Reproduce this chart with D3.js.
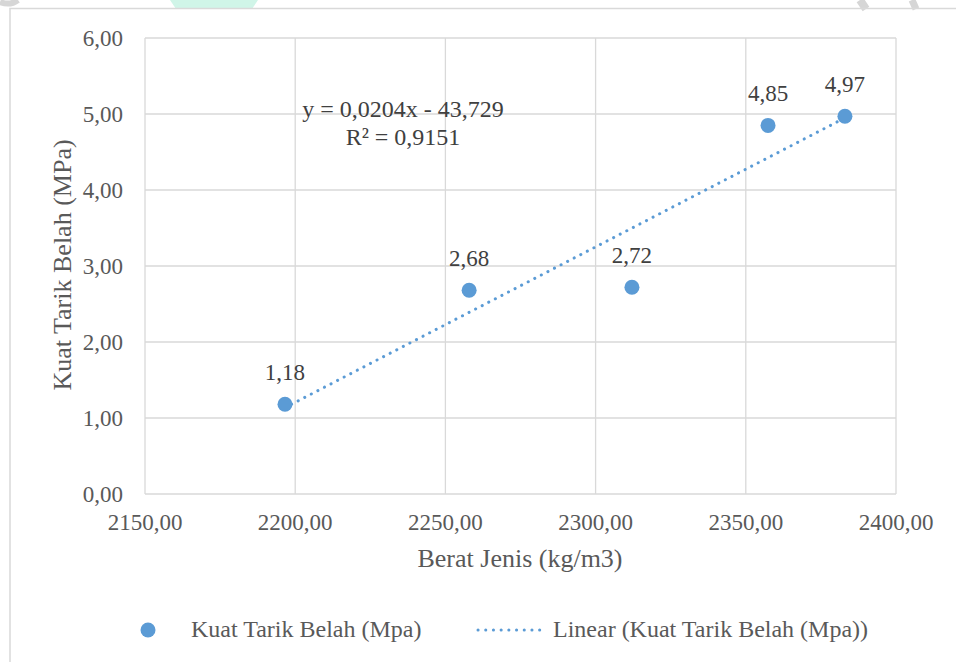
<!DOCTYPE html>
<html lang="en">
<head>
  <meta charset="UTF-8">
  <title>Kuat Tarik Belah vs Berat Jenis</title>
  <script src="https://d3js.org/d3.v7.min.js"></script>
  <style>
    body { margin: 0; background: #fff; }
    text { font-family: "Liberation Serif", "Times New Roman", serif; fill: #595959; }
    .tick-label { font-size: 23px; }
    .axis-title { font-size: 26px; }
    .data-label { font-size: 23px; fill: #404040; }
    .eq-label { font-size: 24px; fill: #404040; }
    .legend-text { font-size: 24px; }
  </style>
</head>
<body>
  <script>
    // data
    const beratJenis = [2196.6, 2257.9, 2312.1, 2357.4, 2383.0];
    const kuatTarik = [1.18, 2.68, 2.72, 4.85, 4.97];
    const labels = ["1,18", "2,68", "2,72", "4,85", "4,97"];
    const xTicks = [2150, 2200, 2250, 2300, 2350, 2400];
    const yTicks = [0, 1, 2, 3, 4, 5, 6];
    const equation = ["y = 0,0204x - 43,729", "R² = 0,9151"];

    const W = 956, H = 662;
    const plot = { left: 145, right: 896, top: 38, bottom: 494 };
    const fmt = v => v.toFixed(2).replace(".", ",");

    const svg = d3.select("body").append("svg")
      .attr("width", W).attr("height", H);

    // faint background shapes from the page the chart sits on
    svg.append("path")
      .attr("d", "M170,0 L258,0 L252,9 L176,9 Z")
      .attr("fill", "#d0f5e8");
    svg.append("path").attr("d", "M0,2 Q10,6 18,0").attr("fill", "none")
      .attr("stroke", "#d6d6d6").attr("stroke-width", 6);
    svg.append("path").attr("d", "M860,0 L866,9").attr("stroke", "#d6d6d6").attr("stroke-width", 8);
    svg.append("path").attr("d", "M912,0 L916,9").attr("stroke", "#d6d6d6").attr("stroke-width", 7);

    // chart frame
    svg.append("path")
      .attr("d", `M10,${H} L10,8.5 L${W},8.5`)
      .attr("fill", "none").attr("stroke", "#d9d9d9").attr("stroke-width", 1.5);

    const x = d3.scaleLinear().domain([2150, 2400]).range([plot.left, plot.right]);
    const y = d3.scaleLinear().domain([0, 6]).range([plot.bottom, plot.top]);

    // grid
    svg.append("g").selectAll("line").data(yTicks).join("line")
      .attr("x1", plot.left).attr("x2", plot.right)
      .attr("y1", d => y(d)).attr("y2", d => y(d))
      .attr("stroke", "#d9d9d9").attr("stroke-width", 1.3);
    svg.append("g").selectAll("line").data(xTicks).join("line")
      .attr("y1", plot.top).attr("y2", plot.bottom)
      .attr("x1", d => x(d)).attr("x2", d => x(d))
      .attr("stroke", "#d9d9d9").attr("stroke-width", 1.3);

    // tick labels
    svg.append("g").selectAll("text").data(yTicks).join("text")
      .attr("class", "tick-label")
      .attr("x", plot.left - 22).attr("y", d => y(d) + 8)
      .attr("text-anchor", "end")
      .text(fmt);
    svg.append("g").selectAll("text").data(xTicks).join("text")
      .attr("class", "tick-label")
      .attr("x", d => x(d)).attr("y", plot.bottom + 36)
      .attr("text-anchor", "middle")
      .text(fmt);

    // axis titles
    svg.append("text").attr("class", "axis-title")
      .attr("x", 520).attr("y", 567)
      .attr("text-anchor", "middle")
      .text("Berat Jenis (kg/m3)");
    svg.append("text").attr("class", "axis-title")
      .attr("transform", "translate(71,265) rotate(-90)")
      .attr("text-anchor", "middle")
      .text("Kuat Tarik Belah (MPa)");

    // linear trendline (least squares over the points)
    const mx = d3.mean(beratJenis), my = d3.mean(kuatTarik);
    const slope = d3.sum(beratJenis, (v, i) => (v - mx) * (kuatTarik[i] - my)) /
                  d3.sum(beratJenis, v => (v - mx) * (v - mx));
    const icpt = my - slope * mx;
    const ends = d3.extent(beratJenis);
    svg.append("line")
      .attr("x1", x(ends[0])).attr("y1", y(slope * ends[0] + icpt))
      .attr("x2", x(ends[1])).attr("y2", y(slope * ends[1] + icpt))
      .attr("stroke", "#5b9bd5").attr("stroke-width", 3)
      .attr("stroke-linecap", "round").attr("stroke-dasharray", "0.1 7.3");

    // points
    const pts = beratJenis.map((v, i) => ({ x: v, y: kuatTarik[i], label: labels[i] }));
    svg.append("g").selectAll("circle").data(pts).join("circle")
      .attr("cx", d => x(d.x)).attr("cy", d => y(d.y)).attr("r", 7.5)
      .attr("fill", "#5b9bd5");
    svg.append("g").selectAll("text").data(pts).join("text")
      .attr("class", "data-label")
      .attr("x", d => x(d.x)).attr("y", d => y(d.y) - 24)
      .attr("text-anchor", "middle")
      .text(d => d.label);

    // equation
    svg.append("g").selectAll("text").data(equation).join("text")
      .attr("class", "eq-label")
      .attr("x", 403).attr("y", (d, i) => 117 + i * 28)
      .attr("text-anchor", "middle")
      .text(d => d);

    // legend
    const lg = svg.append("g");
    lg.append("circle").attr("cx", 148).attr("cy", 630).attr("r", 7.5).attr("fill", "#5b9bd5");
    lg.append("text").attr("class", "legend-text").attr("x", 191).attr("y", 637).text("Kuat Tarik Belah (Mpa)");
    lg.append("line").attr("x1", 478).attr("x2", 547).attr("y1", 630).attr("y2", 630)
      .attr("stroke", "#5b9bd5").attr("stroke-width", 3)
      .attr("stroke-linecap", "round").attr("stroke-dasharray", "0.1 7.6");
    lg.append("text").attr("class", "legend-text").attr("x", 553).attr("y", 637).text("Linear (Kuat Tarik Belah (Mpa))");
  </script>
</body>
</html>
